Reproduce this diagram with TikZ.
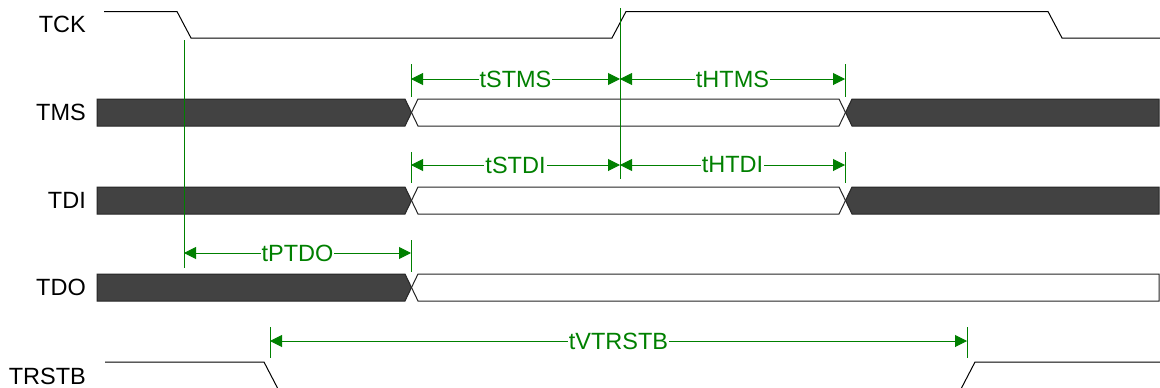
\documentclass[tikz,border=0pt]{standalone}
\usepackage{fontspec}
\setmainfont{Liberation Sans}
\usetikzlibrary{arrows.meta}
\definecolor{dkgray}{RGB}{66,66,66}
\definecolor{dimgreen}{RGB}{0,128,0}
\tikzset{
  sig/.style={draw=black, line width=1pt, line join=miter},
  busdark/.style={draw=black!85, line width=1pt, fill=dkgray},
  buswhite/.style={draw=black!85, line width=1pt, fill=white},
  dimline/.style={draw=dimgreen, line width=1pt, {Triangle[length=12pt,width=12pt]}-{Triangle[length=12pt,width=12pt]}},
  tickline/.style={draw=dimgreen, line width=1pt},
  dimlbl/.style={fill=white, inner sep=1pt, text=dimgreen, font=\fontsize{23.5}{27}\selectfont},
  siglbl/.style={anchor=east, inner sep=0pt, font=\fontsize{23.5}{27}\selectfont}
}
\begin{document}
\begin{tikzpicture}[x=1pt,y=-1pt]
\useasboundingbox (0,0) rectangle (1160,388);
\fill[white] (0,0) rectangle (1160,388);
% signal labels
\node[siglbl] (lTCK) at (86,24.5) {TCK};
\node[siglbl] (lTMS) at (86,112.5) {TMS};
\node[siglbl] (lTDI) at (86,200) {TDI};
\node[siglbl] (lTDO) at (86,287.5) {TDO};
\node[siglbl] (lTRSTB) at (86,376.5) {TRSTB};
% TCK waveform
\draw[sig] (104,11.5) -- (177,11.5) -- (191,38) -- (612,38) -- (626,11.5) -- (1048,11.5) -- (1062,38) -- (1160,38);
% TRSTB waveform
\draw[sig] (105,362) -- (264,362) -- (277.5,388);
\draw[sig] (961.5,388) -- (975,362) -- (1160,362);
% TMS bus
\draw[busdark] (97,99) -- (405,99) -- (411.5,112.5) -- (405,126) -- (97,126) -- cycle;
\draw[buswhite] (418,99) -- (839,99) -- (845.5,112.5) -- (839,126) -- (418,126) -- (411.5,112.5) -- cycle;
\draw[busdark] (852,99) -- (1159,99) -- (1159,126) -- (852,126) -- (845.5,112.5) -- cycle;
% TDI bus
\draw[busdark] (97,187) -- (405,187) -- (411.5,200.5) -- (405,214) -- (97,214) -- cycle;
\draw[buswhite] (418,187) -- (839,187) -- (845.5,200.5) -- (839,214) -- (418,214) -- (411.5,200.5) -- cycle;
\draw[busdark] (852,187) -- (1159,187) -- (1159,214) -- (852,214) -- (845.5,200.5) -- cycle;
% TDO bus
\draw[busdark] (97,274) -- (405,274) -- (411.5,287.5) -- (405,301) -- (97,301) -- cycle;
\draw[buswhite] (418,274) -- (1159,274) -- (1159,301) -- (418,301) -- (411.5,287.5) -- cycle;
% reference lines
\coordinate (clkA1) at (184,40);
\coordinate (clkA2) at (184,268);
\coordinate (clkB1) at (620,8);
\coordinate (clkB2) at (620,179);
\draw[tickline] (clkA1) -- (clkA2);
\draw[tickline] (clkB1) -- (clkB2);
% ticks
\coordinate (t1a) at (411,64);  \coordinate (t1b) at (411,97);
\coordinate (t2a) at (845,64);  \coordinate (t2b) at (845,97);
\coordinate (t3a) at (411,152); \coordinate (t3b) at (411,183);
\coordinate (t4a) at (845,152); \coordinate (t4b) at (845,183);
\coordinate (t5a) at (411,240); \coordinate (t5b) at (411,272);
\coordinate (t6a) at (270,327); \coordinate (t6b) at (270,358);
\coordinate (t7a) at (967,327); \coordinate (t7b) at (967,358);
\foreach \n in {1,...,7} {\draw[tickline] (t\n a) -- (t\n b);}
% dimension end points
\coordinate (dS1) at (411,79);  \coordinate (dM1) at (620,79);  \coordinate (dE1) at (845,79);
\coordinate (dS2) at (411,165); \coordinate (dM2) at (620,165); \coordinate (dE2) at (845,165);
\coordinate (dS3) at (184,253); \coordinate (dE3) at (411,253);
\coordinate (dS4) at (270,341); \coordinate (dE4) at (967,341);
\draw[dimline] (dS1) -- node[dimlbl] (tSTMS) {tSTMS} (dM1);
\draw[dimline] (dM1) -- node[dimlbl] (tHTMS) {tHTMS} (dE1);
\draw[dimline] (dS2) -- node[dimlbl] (tSTDI) {tSTDI} (dM2);
\draw[dimline] (dM2) -- node[dimlbl] (tHTDI) {tHTDI} (dE2);
\draw[dimline] (dS3) -- node[dimlbl] (tPTDO) {tPTDO} (dE3);
\draw[dimline] (dS4) -- node[dimlbl] (tVTRSTB) {tVTRSTB} (dE4);
\end{tikzpicture}
\end{document}
